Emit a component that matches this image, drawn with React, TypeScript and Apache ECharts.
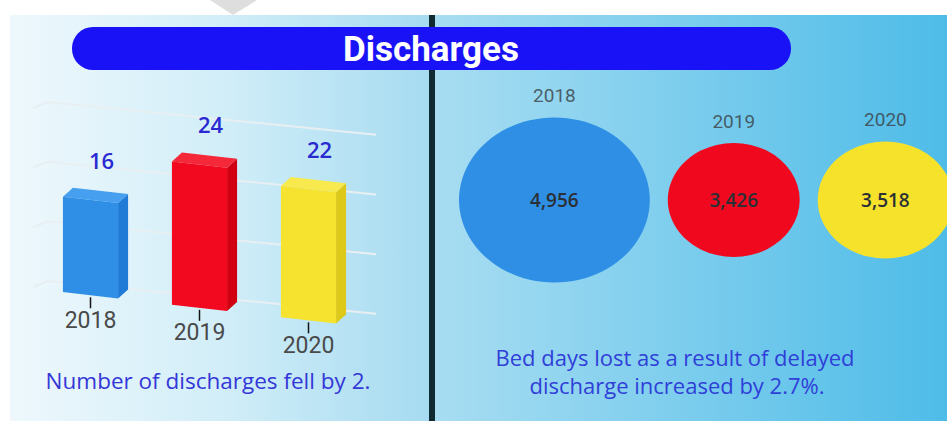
import React, { useEffect, useRef } from "react";
import * as echarts from "echarts";

// ---- data ----
const barYears = ["2018", "2019", "2020"];
const dischargeCounts = [16, 24, 22];
const gridValues = [0, 10, 20, 30];

const bubbleYears = ["2018", "2019", "2020"];
const bedDaysLost = [4956, 3426, 3518];

const titleText = "Discharges";
const leftNote = "Number of discharges fell by 2.";
const rightNote = ["Bed days lost as a result of delayed", "discharge increased by 2.7%."];

// ---- styles ----
const barPalette = [
  { front: "#2f8fe6", side: "#1f7bd5", top: "#46a0ef" },
  { front: "#f2091f", side: "#d00012", top: "#f5283a" },
  { front: "#f5e32f", side: "#dcc91a", top: "#f8e94e" },
];
const bubbleColors = ["#2f8fe5", "#f0081e", "#f6e22b"];

const SKEW = 0.115;
const DEPTH_X = 10;
const DEPTH_Y = -9;
const PX_X = 0.0385;
const PX_Y = 0.0333;
const GAP_PX = 18;

const bubbleX: number[] = [];
{
  let acc = 0;
  bedDaysLost.forEach((v) => {
    bubbleX.push(acc + v / 2);
    acc += v + GAP_PX / PX_X;
  });
}

function renderBar(params: any, api: any) {
  const i = api.value(0);
  const v = api.value(1);
  const cs = params.coordSys;
  const base = api.coord([i, 0]);
  const top = api.coord([i, v]);
  const band = api.size([1, 0])[0];
  const hw = band * 0.253;
  const xl = base[0] - hw;
  const xr = base[0] + hw;
  const sk = (x: number) => SKEW * (x - cs.x);
  const tl = [xl, top[1] + sk(xl)];
  const tr = [xr, top[1] + sk(xr)];
  const br = [xr, base[1] + sk(xr)];
  const bl = [xl, base[1] + sk(xl)];
  const c = barPalette[params.dataIndex];
  const baseC = base[1] + sk(base[0]);
  return {
    type: "group",
    children: [
      {
        type: "polygon",
        shape: { points: [tr, [tr[0] + DEPTH_X, tr[1] + DEPTH_Y], [br[0] + DEPTH_X, br[1] + DEPTH_Y], br] },
        style: { fill: c.side },
      },
      {
        type: "polygon",
        shape: { points: [tl, tr, [tr[0] + DEPTH_X, tr[1] + DEPTH_Y], [tl[0] + DEPTH_X, tl[1] + DEPTH_Y]] },
        style: { fill: c.top },
      },
      { type: "polygon", shape: { points: [tl, tr, br, bl] }, style: { fill: c.front } },
      {
        type: "line",
        shape: { x1: base[0], y1: baseC + 2, x2: base[0], y2: baseC + 13 },
        style: { stroke: "#151515", lineWidth: 1.5 },
      },
      {
        type: "text",
        x: base[0],
        y: baseC + 25,
        style: {
          text: barYears[i],
          fill: "#4a4a4a",
          fontSize: 23,
          fontFamily: "Roboto",
          align: "center",
          verticalAlign: "middle",
        },
      },
      {
        type: "text",
        x: base[0] + 11,
        y: tl[1] - 37,
        style: {
          text: String(v),
          fill: "#2a2ad2",
          fontSize: 22,
          fontWeight: 600,
          fontFamily: "Open Sans",
          align: "center",
          verticalAlign: "middle",
        },
      },
    ],
  };
}

function renderGridLine(params: any, api: any) {
  const v = api.value(1);
  const cs = params.coordSys;
  const y0 = api.coord([0, v])[1] - 8;
  const gx = cs.x;
  return {
    type: "polyline",
    shape: {
      points: [
        [gx - 3, y0 + 6],
        [gx + 12, y0],
        [gx + 340, y0 + 0.1 * 328],
      ],
    },
    style: { stroke: "#e8eff2", lineWidth: 2, fill: null },
  };
}

export default function App() {
  const ref = useRef<HTMLDivElement>(null);
  useEffect(() => {
    if (!ref.current) return;
    const chart = echarts.init(ref.current, undefined, { renderer: "svg" });
    const noteStyle = {
      fill: "#2f3fd8",
      fontSize: 22,
      fontWeight: 500,
      fontFamily: "Open Sans",
      align: "center",
      verticalAlign: "middle",
    };
    const option: any = {
      animation: false,
      grid: [
        { left: 36, width: 327, top: 110, height: 179 },
        { left: 459, width: 488, top: 100, height: 200 },
      ],
      xAxis: [
        { type: "category", gridIndex: 0, data: barYears, show: false },
        { type: "value", gridIndex: 1, min: 0, max: 488 / PX_X, show: false },
      ],
      yAxis: [
        { type: "value", gridIndex: 0, min: 0, max: 30, show: false },
        { type: "value", gridIndex: 1, min: -1, max: 1, show: false },
      ],
      graphic: [
        {
          type: "rect",
          z: -10,
          shape: { x: 10, y: 15, width: 420, height: 406 },
          style: {
            fill: new echarts.graphic.LinearGradient(0, 0, 1, 0, [
              { offset: 0, color: "#eef8fc" },
              { offset: 0.5, color: "#d2eef8" },
              { offset: 1, color: "#a6dbf1" },
            ]),
          },
        },
        {
          type: "rect",
          z: -10,
          shape: { x: 434, y: 15, width: 513, height: 406 },
          style: {
            fill: new echarts.graphic.LinearGradient(0, 0, 1, 0, [
              { offset: 0, color: "#a8ddf2" },
              { offset: 1, color: "#4ebce8" },
            ]),
          },
        },
        {
          type: "rect",
          z: -5,
          shape: { x: 429, y: 15, width: 6, height: 406 },
          style: { fill: "#0f2a30" },
        },
        {
          type: "polygon",
          z: -5,
          shape: { points: [[210, 0], [257, 0], [233, 15]] },
          style: { fill: "#dedede" },
        },
        {
          type: "rect",
          z: 5,
          shape: { x: 72, y: 27, width: 719, height: 43, r: 21 },
          style: { fill: "#1a12f7" },
        },
        {
          type: "text",
          z: 6,
          x: 431,
          y: 49,
          style: {
            text: titleText,
            fill: "#ffffff",
            fontSize: 35,
            fontWeight: "bold",
            fontFamily: "Roboto",
            align: "center",
            verticalAlign: "middle",
          },
        },
        { type: "text", z: 6, x: 208, y: 380, style: { ...noteStyle, fontSize: 22.5, fill: "#3437d8", text: leftNote } },
        { type: "text", z: 6, x: 675, y: 357, style: { ...noteStyle, text: rightNote[0] } },
        { type: "text", z: 6, x: 677, y: 385, style: { ...noteStyle, text: rightNote[1] } },
      ],
      series: [
        {
          type: "custom",
          xAxisIndex: 0,
          yAxisIndex: 0,
          silent: true,
          z: 1,
          renderItem: renderGridLine,
          data: gridValues.map((v) => [0, v]),
        },
        {
          type: "custom",
          xAxisIndex: 0,
          yAxisIndex: 0,
          silent: true,
          z: 2,
          renderItem: renderBar,
          data: dischargeCounts.map((v, i) => [i, v]),
        },
        {
          type: "scatter",
          xAxisIndex: 1,
          yAxisIndex: 1,
          silent: true,
          symbol: "circle",
          symbolSize: (val: number[]) => [val[2] * PX_X, val[2] * PX_Y],
          data: bedDaysLost.map((v, i) => ({
            value: [bubbleX[i], 0, v],
            itemStyle: { color: bubbleColors[i], opacity: 1 },
          })),
          label: {
            show: true,
            position: "inside",
            formatter: (p: any) => Number(p.value[2]).toLocaleString("en-US"),
            color: "#2b3036",
            fontSize: 19,
            fontFamily: "Open Sans",
            fontWeight: 600,
          },
        },
        {
          type: "scatter",
          xAxisIndex: 1,
          yAxisIndex: 1,
          silent: true,
          symbol: "circle",
          symbolSize: (val: number[]) => [val[2] * PX_X, val[2] * PX_Y],
          itemStyle: { color: "rgba(0,0,0,0)" },
          data: bedDaysLost.map((v, i) => [bubbleX[i], 0, v]),
          label: {
            show: true,
            position: "top",
            distance: 12,
            formatter: (p: any) => bubbleYears[p.dataIndex],
            color: "#383e43",
            fontSize: 19,
            fontWeight: "normal",
            fontFamily: "Roboto",
          },
        },
      ],
    };
    chart.setOption(option);
    return () => chart.dispose();
  }, []);
  return (
    <div
      ref={ref}
      style={{ position: "absolute", left: 0, top: 0, width: 947, height: 421, background: "#ffffff" }}
    />
  );
}
